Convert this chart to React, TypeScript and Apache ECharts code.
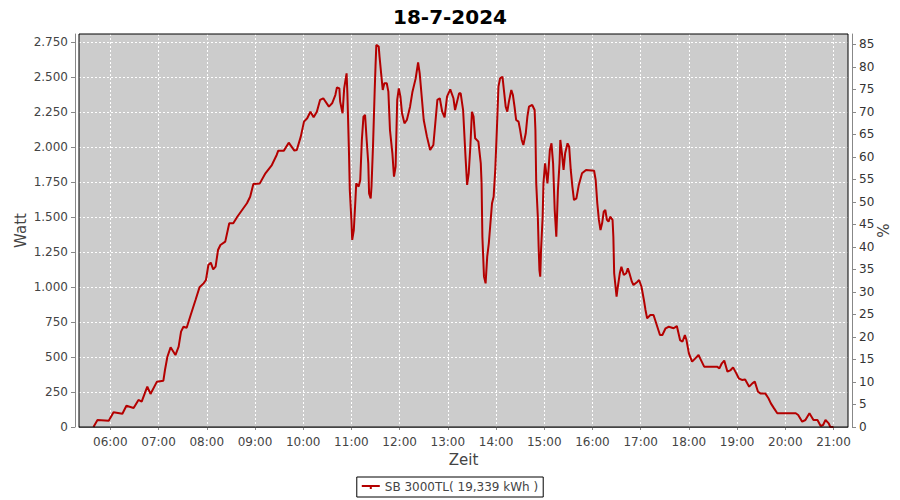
import { useEffect, useRef } from "react";
import * as echarts from "echarts";

const chartTitle = "18-7-2024";
const seriesName = "SB 3000TL( 19,339 kWh )";
const xAxisName = "Zeit";
const yAxisName = "Watt";
const y2AxisName = "%";

const xStart = "05:21";
const xEnd = "21:18";
const wattMax = 2807;
const pctMax = 87.3;

const hourTicks = ["06:00", "07:00", "08:00", "09:00", "10:00", "11:00", "12:00", "13:00", "14:00", "15:00", "16:00", "17:00", "18:00", "19:00", "20:00", "21:00"];
const wattTicks = [0, 250, 500, 750, 1000, 1250, 1500, 1750, 2000, 2250, 2500, 2750];
const pctTicks = [0, 5, 10, 15, 20, 25, 30, 35, 40, 45, 50, 55, 60, 65, 70, 75, 80, 85];

const times = [
  "05:39", "05:44", "05:58", "06:04", "06:15", "06:20", "06:29", "06:35", "06:39", "06:46",
  "06:50", "06:58", "07:06", "07:08", "07:11", "07:15", "07:21", "07:25", "07:28", "07:31",
  "07:35", "07:40", "07:46", "07:51", "07:56", "07:59", "08:02", "08:05", "08:08", "08:11",
  "08:14", "08:17", "08:23", "08:28", "08:33", "08:38", "08:44", "08:50", "08:54", "08:58",
  "09:06", "09:13", "09:21", "09:27", "09:29", "09:36", "09:42", "09:49", "09:52", "09:57",
  "10:01", "10:05", "10:09", "10:13", "10:17", "10:21", "10:25", "10:32", "10:36", "10:40",
  "10:42", "10:45", "10:46", "10:49", "10:51", "10:54", "10:55", "10:57", "10:58", "11:00",
  "11:01", "11:03", "11:05", "11:06", "11:09", "11:11", "11:13", "11:15", "11:17", "11:19",
  "11:21", "11:22", "11:24", "11:25", "11:27", "11:28", "11:29", "11:30", "11:31", "11:34",
  "11:35", "11:37", "11:39", "11:41", "11:44", "11:46", "11:48", "11:51", "11:53", "11:55",
  "11:57", "11:59", "12:01", "12:03", "12:06", "12:09", "12:13", "12:16", "12:20", "12:23",
  "12:25", "12:30", "12:34", "12:38", "12:42", "12:47", "12:50", "12:53", "12:56", "12:59",
  "13:03", "13:07", "13:09", "13:14", "13:16", "13:19", "13:22", "13:24", "13:26", "13:28",
  "13:30", "13:32", "13:34", "13:38", "13:41", "13:42", "13:43", "13:45", "13:47", "13:49",
  "13:51", "13:53", "13:55", "13:57", "13:59", "14:01", "14:03", "14:05", "14:08", "14:10",
  "14:12", "14:14", "14:16", "14:19", "14:21", "14:23", "14:25", "14:28", "14:30", "14:32",
  "14:34", "14:37", "14:39", "14:41", "14:45", "14:48", "14:49", "14:50", "14:52", "14:53",
  "14:54", "14:55", "14:56", "14:58", "14:59", "15:01", "15:02", "15:04", "15:05", "15:07",
  "15:09", "15:11", "15:13", "15:15", "15:17", "15:19", "15:20", "15:22", "15:24", "15:26",
  "15:29", "15:31", "15:33", "15:35", "15:37", "15:40", "15:43", "15:47", "15:52", "16:02",
  "16:04", "16:06", "16:08", "16:10", "16:12", "16:14", "16:16", "16:18", "16:20", "16:22",
  "16:25", "16:26", "16:27", "16:30", "16:31", "16:34", "16:36", "16:39", "16:42", "16:44",
  "16:46", "16:49", "16:51", "16:56", "16:58", "17:01", "17:04", "17:06", "17:08", "17:12",
  "17:16", "17:18", "17:24", "17:27", "17:31", "17:35", "17:41", "17:45", "17:49", "17:52",
  "17:55", "17:57", "18:00", "18:04", "18:08", "18:12", "18:14", "18:19", "18:35", "18:38",
  "18:41", "18:44", "18:48", "18:52", "18:55", "18:59", "19:02", "19:06", "19:10", "19:15",
  "19:19", "19:22", "19:26", "19:29", "19:35", "19:39", "19:42", "19:46", "19:50", "20:13",
  "20:16", "20:21", "20:25", "20:30", "20:35", "20:40", "20:44", "20:47", "20:50", "20:54",
  "20:56", "21:00"
];

const watts = [
  0, 50, 45, 105, 95, 152, 136, 193, 181, 288,
  236, 324, 331, 407, 502, 569, 514, 574, 681, 716,
  709, 800, 907, 998, 1026, 1050, 1157, 1174, 1126, 1145,
  1264, 1300, 1324, 1455, 1455, 1502, 1550, 1598, 1645, 1736,
  1740, 1812, 1871, 1943, 1974, 1974, 2031, 1974, 1979, 2074,
  2181, 2205, 2252, 2212, 2252, 2336, 2348, 2288, 2312, 2371,
  2426, 2419, 2324, 2241, 2419, 2526, 2383, 1955, 1693, 1479,
  1336, 1407, 1621, 1740, 1717, 1764, 2050, 2217, 2229, 2050,
  1883, 1669, 1633, 1717, 2026, 2217, 2407, 2574, 2729, 2717,
  2645, 2526, 2407, 2455, 2455, 2395, 2121, 1955, 1788, 1860,
  2336, 2419, 2360, 2241, 2169, 2193, 2288, 2395, 2490, 2605,
  2526, 2193, 2074, 1979, 2014, 2336, 2348, 2252, 2212, 2360,
  2412, 2348, 2264, 2383, 2383, 2264, 1931, 1729, 1812, 2002,
  2252, 2217, 2062, 2038, 1883, 1740, 1359, 1074, 1026, 1217,
  1312, 1455, 1598, 1645, 1836, 2121, 2431, 2490, 2502, 2395,
  2288, 2252, 2324, 2407, 2371, 2288, 2193, 2181, 2121, 2050,
  2014, 2098, 2217, 2288, 2300, 2264, 2121, 1740, 1502, 1288,
  1121, 1074, 1264, 1502, 1740, 1883, 1836, 1740, 1812, 1979,
  2026, 1883, 1550, 1359, 1693, 1883, 2050, 1955, 1836, 1955,
  2026, 2002, 1836, 1717, 1621, 1633, 1729, 1812, 1836, 1831,
  1764, 1598, 1479, 1407, 1455, 1538, 1550, 1479, 1467, 1502,
  1479, 1359, 1098, 931, 979, 1098, 1145, 1086, 1098, 1133,
  1098, 1038, 1014, 1038, 1050, 1002, 907, 836, 776, 800,
  800, 764, 657, 657, 705, 716, 705, 721, 621, 609,
  657, 621, 526, 467, 490, 514, 490, 431, 431, 419,
  455, 474, 395, 407, 426, 383, 348, 336, 340, 288,
  312, 324, 252, 240, 240, 205, 169, 133, 98, 98,
  86, 38, 50, 98, 50, 50, 7, 14, 50, 26,
  0, 0
];

const toMin = (s: string) => {
  const [h, m] = s.split(":").map(Number);
  return h * 60 + m;
};
const pad = (n: number) => (n < 10 ? "0" + n : String(n));
const fmtTime = (v: number) => pad(Math.floor(v / 60)) + ":" + pad(Math.round(v % 60));
const fmtThousands = (v: number) => String(v).replace(/\B(?=(\d{3})+(?!\d))/g, ".");

export default function App() {
  const ref = useRef<HTMLDivElement>(null);

  useEffect(() => {
    if (!ref.current) return;
    const chart = echarts.init(ref.current, null, { renderer: "svg" });
    const font = "DejaVu Sans";
    const lineColor = "#b40000";
    const data = times.map((t, i) => [toMin(t), watts[i]]);
    const hourVals = hourTicks.map(toMin);

    chart.setOption({
      animation: false,
      backgroundColor: "#ffffff",
      textStyle: { fontFamily: font },
      title: {
        text: chartTitle,
        left: "center",
        top: 2,
        textStyle: { fontSize: 20, fontWeight: "bold", color: "#000", fontFamily: font },
      },
      legend: {
        data: [
          {
            name: seriesName,
            icon: "path://M0,0 L18,0 L18,2 L10,2 L10,4 L8,4 L8,2 L0,2 Z",
          },
        ],
        left: "center",
        top: 477,
        padding: [3, 5],
        borderColor: "#000",
        borderWidth: 1,
        backgroundColor: "#fff",
        itemWidth: 18,
        itemHeight: 4,
        itemGap: 5,
        textStyle: { fontSize: 12, color: "#444", fontFamily: font, lineHeight: 14 },
      },
      grid: {
        left: 79,
        top: 34,
        right: 52,
        bottom: 73,
        show: true,
        backgroundColor: "#cccccc",
        borderWidth: 0,
        containLabel: false,
        outerBoundsMode: "none",
      },
      xAxis: {
        type: "value",
        min: toMin(xStart),
        max: toMin(xEnd),
        offset: 4,
        name: xAxisName,
        nameLocation: "middle",
        nameGap: 21,
        nameTextStyle: { fontSize: 15, color: "#444", fontFamily: font },
        axisLine: { show: true, lineStyle: { color: "#888" } },
        axisTick: { show: true, customValues: hourVals, length: 3, lineStyle: { color: "#888" } },
        axisLabel: {
          customValues: hourVals,
          formatter: (v: number) => fmtTime(v),
          color: "#444",
          fontSize: 12,
          margin: 5,
          fontFamily: font,
        },
        splitLine: { show: true, lineStyle: { color: "#ffffff", width: 1, type: [2, 2] } },
      },
      yAxis: [
        {
          type: "value",
          position: "left",
          min: 0,
          max: wattMax,
          offset: 4,
          name: yAxisName,
          nameLocation: "middle",
          nameGap: 47,
          nameMoveOverlap: false,
          nameTextStyle: { fontSize: 15, color: "#444", fontFamily: font },
          axisLine: { show: true, lineStyle: { color: "#888" } },
          axisTick: { show: true, customValues: wattTicks, length: 4, lineStyle: { color: "#888" } },
          axisLabel: {
            customValues: wattTicks,
            formatter: (v: number) => fmtThousands(v),
            color: "#444",
            fontSize: 12,
            margin: 7,
            fontFamily: font,
          },
          splitLine: { show: true, lineStyle: { color: "#ffffff", width: 1, type: [2, 2] } },
        },
        {
          type: "value",
          position: "right",
          min: 0,
          max: pctMax,
          offset: 4,
          name: y2AxisName,
          nameLocation: "middle",
          nameGap: 24,
          nameMoveOverlap: false,
          nameTextStyle: { fontSize: 15, color: "#444", fontFamily: font },
          axisLine: { show: true, lineStyle: { color: "#888" } },
          axisTick: { show: true, customValues: pctTicks, length: 4, lineStyle: { color: "#888" } },
          axisLabel: {
            customValues: pctTicks,
            color: "#333",
            fontSize: 12,
            margin: 7,
            fontFamily: font,
          },
          splitLine: { show: false },
        },
      ],
      series: [
        {
          type: "line",
          name: seriesName,
          data,
          yAxisIndex: 0,
          symbol: "none",
          showSymbol: false,
          lineStyle: { color: lineColor, width: 2 },
          itemStyle: { color: lineColor },
        },
      ],
      graphic: [
        {
          type: "rect",
          silent: true,
          z: 100,
          shape: { x: 79, y: 34, width: 769, height: 393 },
          style: { fill: "none", stroke: "#000", lineWidth: 1 },
        },
      ],
    });

    return () => chart.dispose();
  }, []);

  return (
    <div
      ref={ref}
      style={{ position: "fixed", left: 0, top: 0, width: 900, height: 500 }}
    />
  );
}
